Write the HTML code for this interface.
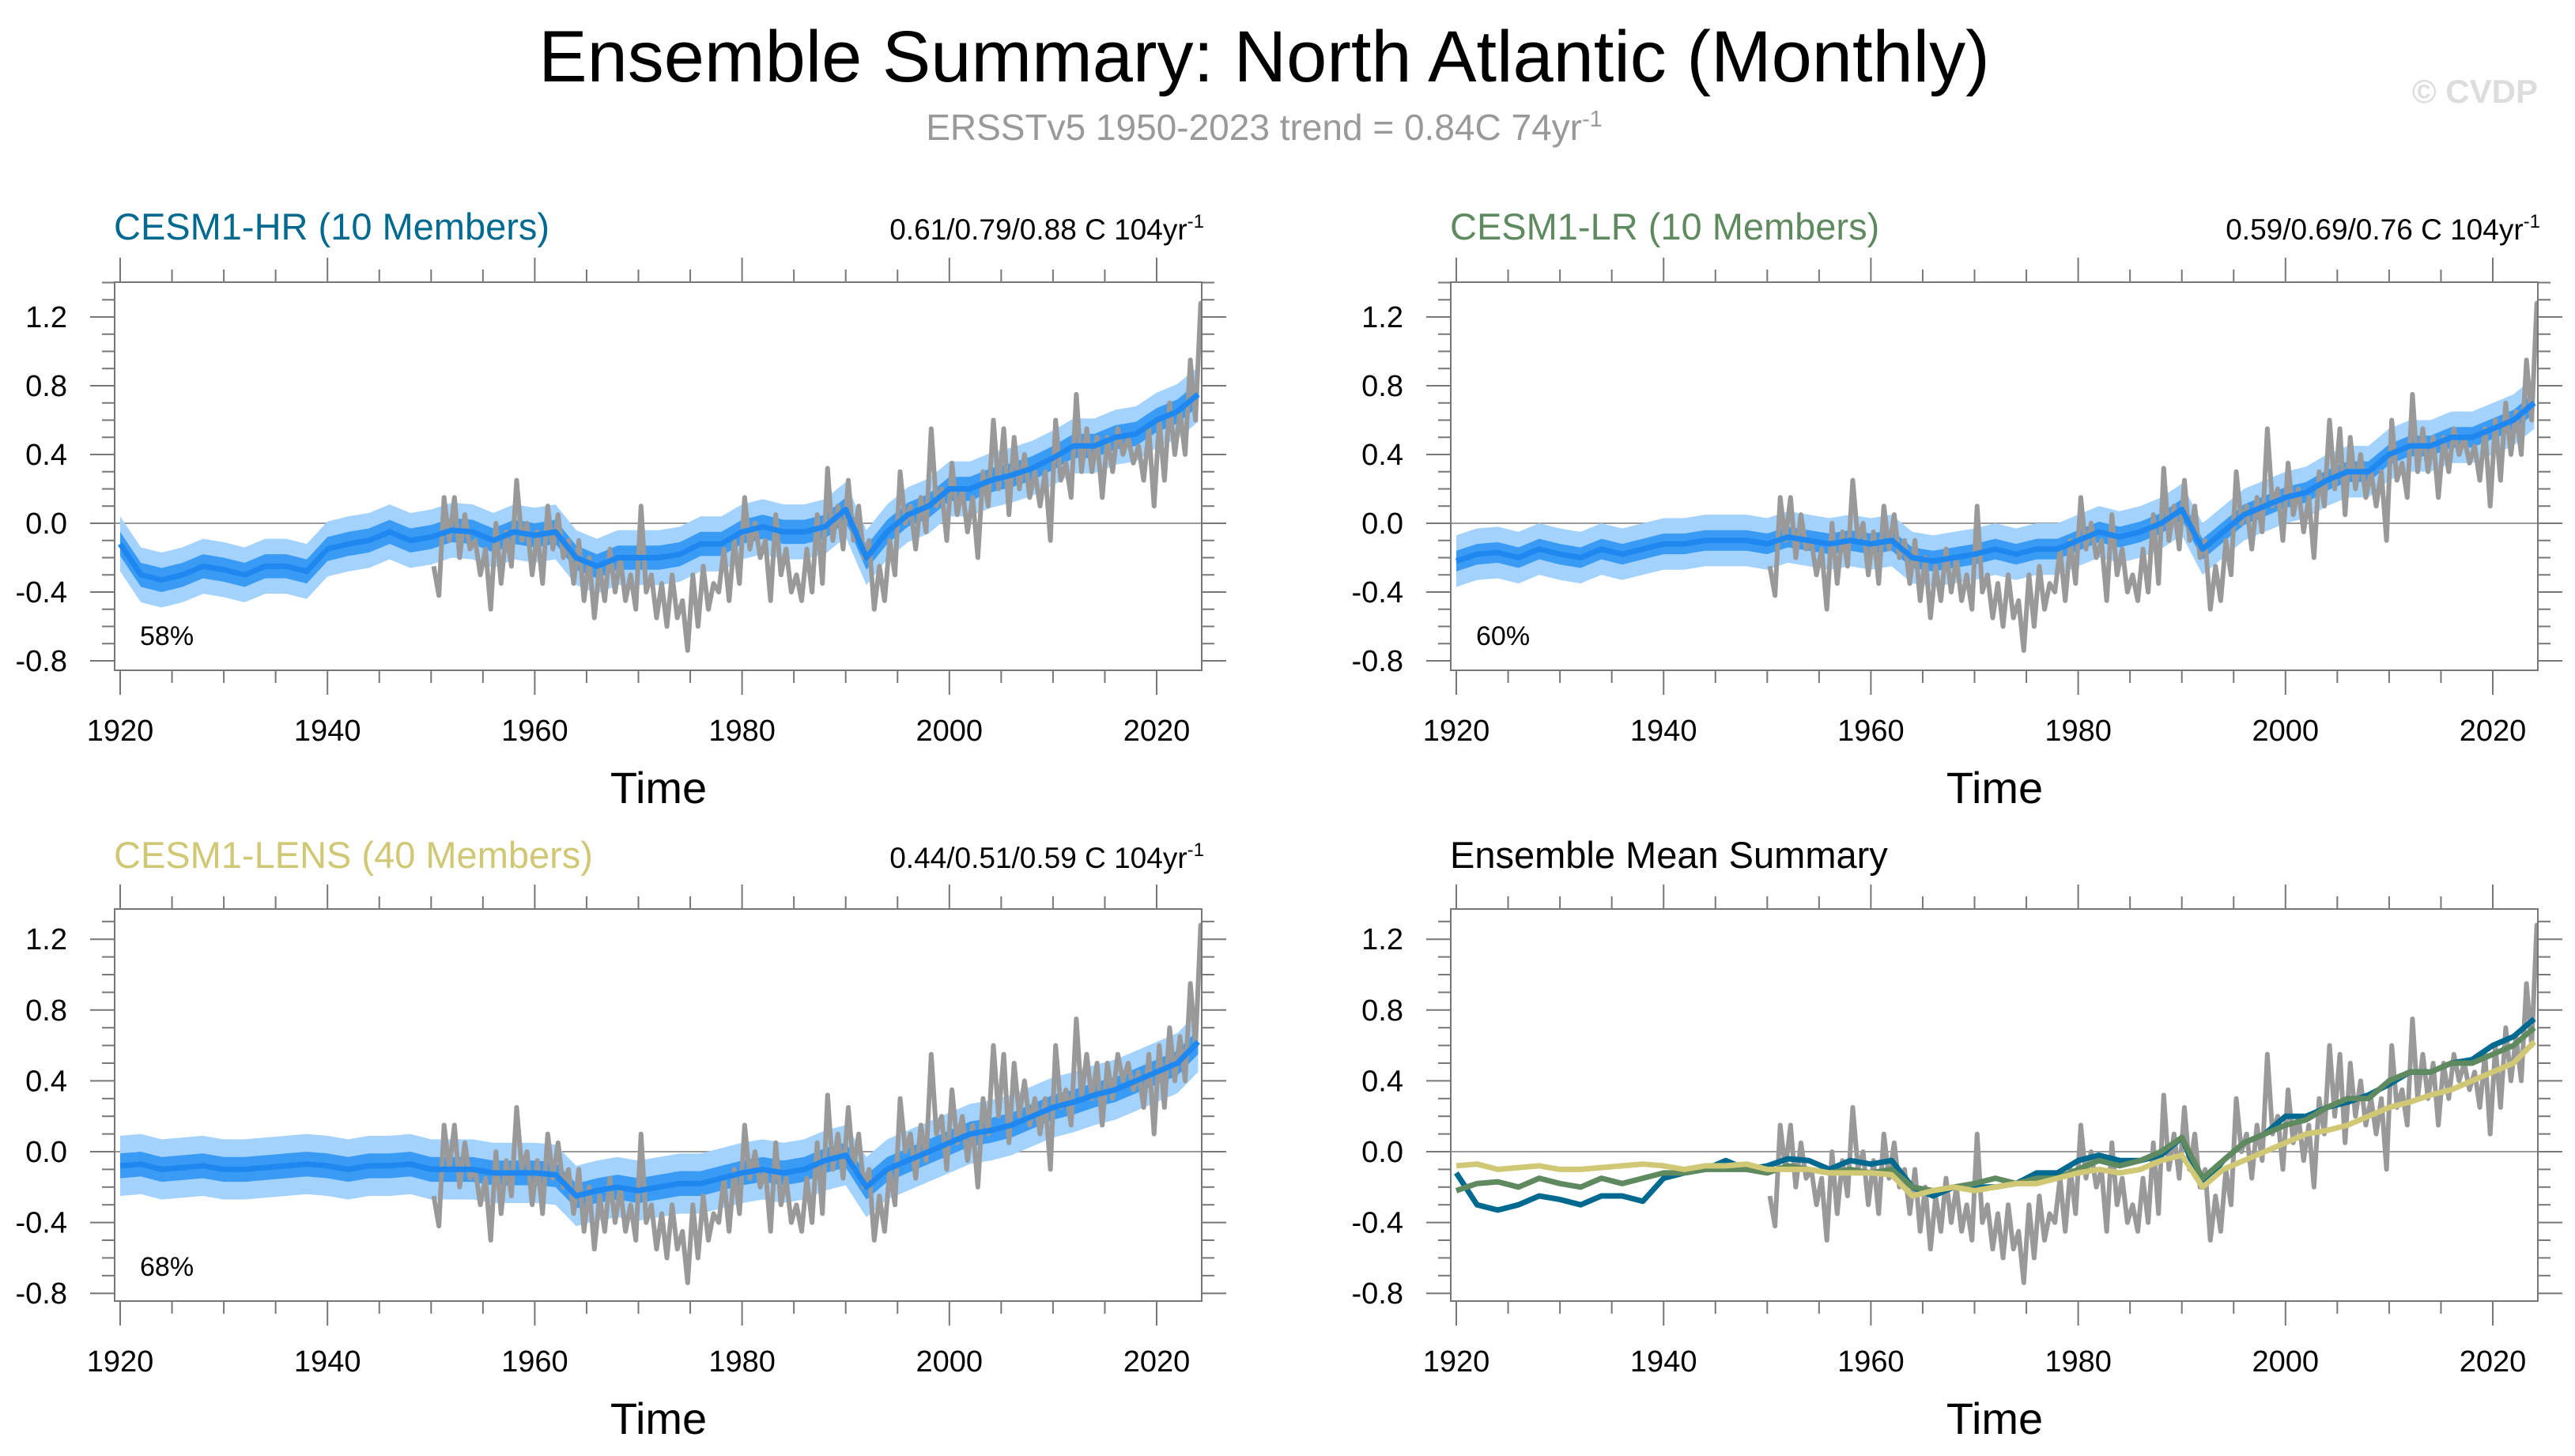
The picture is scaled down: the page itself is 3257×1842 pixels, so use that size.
<!DOCTYPE html>
<html><head><meta charset="utf-8"><style>
html,body{margin:0;padding:0;background:#fff;}
svg{display:block;font-family:"Liberation Sans",Arial,sans-serif;}
</style></head><body>
<svg id="fig" width="3257" height="1842" viewBox="0 0 3257 1842" xmlns="http://www.w3.org/2000/svg">
<rect width="3257" height="1842" fill="#fff"/>
<text x="1599" y="103" font-size="92" text-anchor="middle" fill="#000">Ensemble Summary: North Atlantic (Monthly)</text>
<text x="1599" y="177" font-size="46" text-anchor="middle" fill="#999">ERSSTv5 1950-2023 trend = 0.84C 74yr<tspan dy="-17" font-size="29">-1</tspan></text>
<text x="3210" y="130" font-size="42" font-weight="bold" text-anchor="end" fill="#ddd">© CVDP</text>
<g id="panels"></g>
</svg>
<script>
const years2 = [1920,1922,1924,1926,1928,1930,1932,1934,1936,1938,1940,1942,1944,1946,1948,1950,1952,1954,1956,1958,1960,1962,1964,1966,1968,1970,1972,1974,1976,1978,1980,1982,1984,1986,1988,1990,1992,1994,1996,1998,2000,2002,2004,2006,2008,2010,2012,2014,2016,2018,2020,2022,2024];
const hrMean = [-0.12,-0.3,-0.33,-0.3,-0.25,-0.27,-0.3,-0.25,-0.25,-0.28,-0.15,-0.12,-0.1,-0.05,-0.1,-0.08,-0.04,-0.05,-0.1,-0.05,-0.07,-0.05,-0.2,-0.25,-0.2,-0.2,-0.2,-0.18,-0.12,-0.12,-0.05,-0.02,-0.05,-0.05,-0.02,0.08,-0.2,-0.05,0.05,0.1,0.2,0.2,0.25,0.28,0.32,0.38,0.45,0.45,0.5,0.52,0.6,0.65,0.75];
const lrMean = [-0.22,-0.18,-0.17,-0.2,-0.15,-0.18,-0.2,-0.15,-0.18,-0.15,-0.12,-0.12,-0.1,-0.1,-0.1,-0.12,-0.08,-0.1,-0.12,-0.1,-0.12,-0.1,-0.2,-0.22,-0.2,-0.18,-0.15,-0.18,-0.15,-0.15,-0.1,-0.05,-0.08,-0.05,0.0,0.08,-0.15,-0.05,0.05,0.1,0.15,0.18,0.25,0.3,0.3,0.4,0.45,0.45,0.5,0.5,0.55,0.6,0.7];
const lensMean = [-0.08,-0.07,-0.1,-0.09,-0.08,-0.1,-0.1,-0.09,-0.08,-0.07,-0.08,-0.1,-0.08,-0.08,-0.07,-0.1,-0.1,-0.1,-0.12,-0.12,-0.12,-0.13,-0.25,-0.22,-0.2,-0.22,-0.2,-0.18,-0.18,-0.15,-0.12,-0.1,-0.12,-0.1,-0.05,-0.02,-0.2,-0.1,-0.05,0.0,0.05,0.1,0.12,0.15,0.2,0.25,0.28,0.32,0.35,0.4,0.45,0.5,0.62];
const hrSpread = [0.16, 0.07];
const lrSpread = [0.15, 0.06];
const lensSpread = [0.17, 0.07];
const obsYears = [1950,1951,1952,1953,1954,1955,1956,1957,1958,1959,1960,1961,1962,1963,1964,1965,1966,1967,1968,1969,1970,1971,1972,1973,1974,1975,1976,1977,1978,1979,1980,1981,1982,1983,1984,1985,1986,1987,1988,1989,1990,1991,1992,1993,1994,1995,1996,1997,1998,1999,2000,2001,2002,2003,2004,2005,2006,2007,2008,2009,2010,2011,2012,2013,2014,2015,2016,2017,2018,2019,2020,2021,2022,2023,2024];
const obsHigh = [-0.25,0.15,0.15,0.05,-0.1,-0.15,0.0,-0.05,0.25,0.0,-0.05,0.1,0.05,-0.1,-0.1,-0.2,-0.25,-0.15,-0.2,-0.3,0.1,-0.3,-0.35,-0.3,-0.45,-0.3,-0.25,-0.35,-0.15,-0.1,0.15,0.0,-0.1,0.05,-0.15,-0.3,-0.15,0.05,0.32,0.1,0.25,0.1,-0.1,-0.25,-0.1,0.3,0.1,0.15,0.55,0.2,0.35,0.2,0.15,0.3,0.6,0.55,0.5,0.4,0.3,0.3,0.6,0.35,0.75,0.55,0.5,0.5,0.55,0.5,0.45,0.55,0.6,0.7,0.65,0.95,1.28];
const obsLow = [-0.42,-0.1,-0.2,-0.15,-0.3,-0.5,-0.35,-0.25,-0.1,-0.3,-0.35,-0.15,-0.2,-0.35,-0.45,-0.55,-0.45,-0.4,-0.45,-0.5,-0.4,-0.55,-0.6,-0.55,-0.74,-0.6,-0.5,-0.4,-0.45,-0.35,-0.15,-0.2,-0.45,-0.3,-0.4,-0.45,-0.4,-0.35,-0.1,-0.15,-0.1,-0.2,-0.5,-0.45,-0.3,0.0,-0.15,-0.05,0.1,-0.1,0.05,-0.05,-0.2,0.1,0.2,0.05,0.2,0.15,0.1,-0.1,0.25,0.15,0.3,0.3,0.15,0.3,0.4,0.35,0.25,0.1,0.25,0.4,0.4,0.6,0.9];
const yTicks = [-0.8,-0.4,0.0,0.4,0.8,1.2];
const yTickLabels = ["-0.8","-0.4","0.0","0.4","0.8","1.2"];
const xTicks = [1920,1940,1960,1980,2000,2020];

const NS="http://www.w3.org/2000/svg";
const root=document.getElementById('panels');
function mk(tag,attrs,parent){const e=document.createElementNS(NS,tag);for(const k in attrs)e.setAttribute(k,attrs[k]);(parent||root).appendChild(e);return e;}

const panels=[
 {id:'hr',dx:0,top:357,bot:848,zero:662,scale:217.5,title:'CESM1-HR (10 Members)',tcol:'#00698f',tb:303,trend:'0.61/0.79/0.88 C 104yr',pct:'58%',mean:hrMean,spread:hrSpread},
 {id:'lr',dx:1690,top:357,bot:848,zero:662,scale:217.5,title:'CESM1-LR (10 Members)',tcol:'#5f8a5f',tb:303,trend:'0.59/0.69/0.76 C 104yr',pct:'60%',mean:lrMean,spread:lrSpread},
 {id:'lens',dx:0,top:1150,bot:1646,zero:1457,scale:224,title:'CESM1-LENS (40 Members)',tcol:'#d0c874',tb:1098,trend:'0.44/0.51/0.59 C 104yr',pct:'68%',mean:lensMean,spread:lensSpread},
 {id:'summary',dx:1690,top:1150,bot:1646,zero:1457,scale:224,title:'Ensemble Mean Summary',tcol:'#000',tb:1098,trend:null,pct:null,mean:null,spread:null}
];

panels.forEach(p=>{
 const g=mk('g',{});
 
 
 const L=145+p.dx, R=1520+p.dx;
 const X=yr=>152+p.dx+(yr-1920)*13.11;
 const Y=v=>p.zero-v*p.scale;
 const cp=mk('clipPath',{id:'clip-'+p.id},g);
 mk('rect',{x:L,y:p.top,width:R-L,height:p.bot-p.top},cp);
 const t=mk('text',{x:144+p.dx,y:p.tb,'font-size':47,fill:p.tcol},g);
 t.textContent=p.title;
 
 
 if(p.trend){
  const tr=mk('text',{x:R+3,y:p.tb,'font-size':37,'text-anchor':'end',fill:'#000'},g);
  tr.appendChild(document.createTextNode(p.trend));
  const sup=mk('tspan',{dy:-15,'font-size':24},tr);
  sup.textContent='-1';
  
  
 }
 const plot=mk('g',{'clip-path':'url(#clip-'+p.id+')'},g);
 mk('line',{x1:L,x2:R,y1:Y(0),y2:Y(0),stroke:'#999','stroke-width':2},plot);
 if(p.mean){
  [[p.spread[0],'#a3d2fc'],[p.spread[1],'#3a9bf5']].forEach(([s,c],k)=>{
   let d='M'+years2.map((yr,i)=>X(yr)+','+Y(p.mean[i]+s)).join('L');
   d+='L'+years2.slice().reverse().map((yr,i)=>X(yr)+','+Y(p.mean[years2.length-1-i]-s)).join('L')+'Z';
   const band=mk('path',{d:d,fill:c},plot);
   
   
  });
 }
 let od='';
 obsYears.forEach((yr,i)=>{od+=(i?'L':'M')+X(yr+0.25)+','+Y(obsHigh[i])+'L'+X(yr+0.75)+','+Y(obsLow[i]);});
 const obs=mk('path',{d:od,fill:'none',stroke:'#999','stroke-width':6,'stroke-linejoin':'round'},plot);
 
 
 const line=(arr,col,w,name)=>{
  const e=mk('path',{d:'M'+years2.map((yr,i)=>X(yr)+','+Y(arr[i])).join('L'),fill:'none',stroke:col,'stroke-width':w,'stroke-linejoin':'round'},plot);
  
  
 };
 if(p.mean){line(p.mean,'#1e88f0',7,'ensemble-mean-line');}
 else{
  line(hrMean,'#00698f',7,'hr-mean-line');
  line(lrMean,'#5f8a5f',7,'lr-mean-line');
  line(lensMean,'#d0c874',7,'lens-mean-line');
 }
 const box=mk('rect',{x:L,y:p.top,width:R-L,height:p.bot-p.top,fill:'none',stroke:'#777','stroke-width':2},g);
 
 
 for(let yr=1920;yr<=2024;yr+=5){
  const major=(yr%20===0);
  const x=X(yr);
  mk('line',{x1:x,x2:x,y1:p.top,y2:p.top-(major?31:16),stroke:'#777','stroke-width':2},g);
  mk('line',{x1:x,x2:x,y1:p.bot,y2:p.bot+(major?31:16),stroke:'#777','stroke-width':2},g);
 }
 xTicks.forEach(yr=>{
  const tl=mk('text',{x:X(yr),y:(p.bot+89),'font-size':38,'text-anchor':'middle',fill:'#000'},g);
  tl.textContent=String(yr);
  
  
 });
 for(let k=-9;k<=14;k++){
  const v=k/10;const y=Y(v);
  if(y<p.top-1||y>p.bot+1)continue;
  const major=(k%4===0);
  mk('line',{x1:L,x2:L-(major?31:16),y1:y,y2:y,stroke:'#777','stroke-width':2},g);
  mk('line',{x1:R,x2:R+(major?31:16),y1:y,y2:y,stroke:'#777','stroke-width':2},g);
 }
 yTicks.forEach((v,i)=>{
  const tl=mk('text',{x:85+p.dx,y:Y(v)+13,'font-size':38,'text-anchor':'end',fill:'#000'},g);
  tl.textContent=yTickLabels[i];
  
  
 });
 const xt=mk('text',{x:833+p.dx,y:p.bot+168,'font-size':56,'text-anchor':'middle',fill:'#000'},g);
 xt.textContent='Time';
 
 
 if(p.pct){
  const pc=mk('text',{x:177+p.dx,y:p.bot-32,'font-size':34,fill:'#000'},g);
  pc.textContent=p.pct;
  
  
 }
});
</script>
</body></html>
